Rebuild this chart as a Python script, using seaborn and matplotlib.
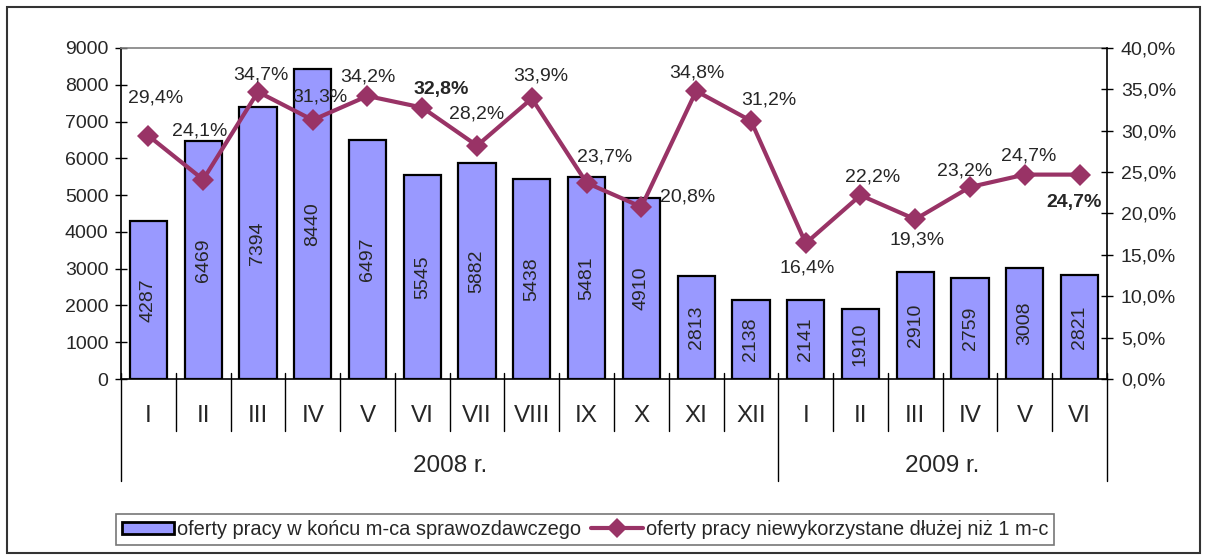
import numpy as np
import pandas as pd
import matplotlib
matplotlib.use("Agg")
import matplotlib.pyplot as plt
import seaborn as sns
from matplotlib.patches import Patch, Rectangle
from matplotlib.lines import Line2D
from matplotlib.ticker import FuncFormatter, MultipleLocator
import matplotlib.transforms as mtransforms

# ---- data ----
months = ["I", "II", "III", "IV", "V", "VI", "VII", "VIII", "IX", "X", "XI", "XII",
          "I", "II", "III", "IV", "V", "VI"]
years = ["2008 r.", "2009 r."]
year_counts = [12, 6]
offers = [4287, 6469, 7394, 8440, 6497, 5545, 5882, 5438, 5481, 4910, 2813, 2138,
          2141, 1910, 2910, 2759, 3008, 2821]
unused_pct = [29.4, 24.1, 34.7, 31.3, 34.2, 32.8, 28.2, 33.9, 23.7, 20.8, 34.8, 31.2,
              16.4, 22.2, 19.3, 23.2, 24.7, 24.7]
bar_label_name = "oferty pracy w końcu m-ca sprawozdawczego"
line_label_name = "oferty pracy niewykorzystane dłużej niż 1 m-c"
bold_idx = [5, 17]

# label offsets (pixels) relative to the line points
label_offsets = [(7, 38), (-3, 49), (3, 17), (7, 23), (0, 19), (19, 18), (0, 32), (9, 22),
                 (18, 26), (46, 10), (1, 18), (18, 21), (1, -25), (12, 18), (2, -21),
                 (-5, 16), (4, 19), (-6, -28)]

sns.set_style("white")
plt.rcParams["font.family"] = ["Liberation Sans", "DejaVu Sans"]

BAR_COLOR = "#9999FF"
LINE_COLOR = "#993366"

W, H = 1207, 556
fig = plt.figure(figsize=(W / 100, H / 100), dpi=100)
left, right, top, bottom = 121, 1107, 48, 379
ax = fig.add_axes([left / W, 1 - bottom / H, (right - left) / W, (bottom - top) / H])

df = pd.DataFrame({"pos": np.arange(len(offers)), "offers": offers, "pct": unused_pct})

sns.barplot(data=df, x="pos", y="offers", ax=ax, color=BAR_COLOR, saturation=1,
            width=0.68, edgecolor="black", linewidth=1.6)
ax.set_xlim(-0.5, len(offers) - 0.5)
ax.set_ylim(0, 9000)
ax.yaxis.set_major_locator(MultipleLocator(1000))
ax.set_xlabel("")
ax.set_ylabel("")
ax.set_xticks([])
ax.tick_params(axis="y", direction="inout", length=8, width=1, labelsize=14, pad=5, left=True,
               color="black")
for s in ["left", "bottom"]:
    ax.spines[s].set_color("black")
    ax.spines[s].set_linewidth(1.2)
ax.spines["top"].set_color("#808080")
ax.spines["top"].set_linewidth(1.2)
ax.spines["right"].set_visible(False)

ax.bar_label(ax.containers[0], labels=[str(v) for v in offers], label_type="center",
             rotation=90, fontsize=14)

ax2 = ax.twinx()
sns.lineplot(x=df["pos"], y=df["pct"], ax=ax2, color=LINE_COLOR, linewidth=3,
             marker="D", markersize=11, markeredgecolor=LINE_COLOR, markeredgewidth=0,
             legend=False)
ax2.set_ylim(0, 40)
ax2.yaxis.set_major_locator(MultipleLocator(5))
ax2.yaxis.set_major_formatter(FuncFormatter(lambda v, p: f"{v:.1f}%".replace(".", ",")))
ax2.set_ylabel("")
ax2.tick_params(axis="y", direction="inout", length=8, width=1, labelsize=14, pad=6, right=True,
                color="black")
for s in ["left", "top", "bottom"]:
    ax2.spines[s].set_visible(False)
ax2.spines["right"].set_color("black")
ax2.spines["right"].set_linewidth(1.2)
ax2.set_xlim(-0.5, len(offers) - 0.5)

for i, (v, (dx, dy)) in enumerate(zip(unused_pct, label_offsets)):
    ax2.annotate(f"{v:.1f}%".replace(".", ","), xy=(i, v), xytext=(dx, dy),
                 textcoords="offset pixels", ha="center", va="center", fontsize=14,
                 fontweight="bold" if i in bold_idx else "normal", annotation_clip=False)

# two-level category axis
trans = mtransforms.blended_transform_factory(ax.transData, ax.transAxes)
ph = bottom - top
y_top = 6 / ph
y_month_sep = -(431 - bottom) / ph
y_year_sep = -(481 - bottom) / ph
y_month_lbl = -(416 - bottom) / ph
y_year_lbl = -(466 - bottom) / ph

year_bounds = np.cumsum([0] + year_counts)
for b in range(len(offers) + 1):
    xb = b - 0.5
    long_sep = b in year_bounds
    ax.plot([xb, xb], [y_top, y_year_sep if long_sep else y_month_sep], transform=trans,
            color="black", lw=1, clip_on=False)
for i, m in enumerate(months):
    ax.text(i, y_month_lbl, m, transform=trans, ha="center", va="center", fontsize=17.5)
for k, yname in enumerate(years):
    xc = (year_bounds[k] + year_bounds[k + 1] - 1) / 2
    ax.text(xc, y_year_lbl, yname, transform=trans, ha="center", va="center", fontsize=17.5)

# legend
handles = [Patch(facecolor=BAR_COLOR, edgecolor="black", linewidth=2),
           Line2D([0], [0], color=LINE_COLOR, lw=3, marker="D", markersize=10,
                  markeredgewidth=0)]
leg = fig.legend(handles, [bar_label_name, line_label_name], loc="center",
                 bbox_to_anchor=(585 / W, 1 - 529.5 / H), ncol=2, frameon=True,
                 fancybox=False, edgecolor="#555555", fontsize=14.4, handlelength=2.6,
                 handleheight=0.55, handletextpad=0.15, columnspacing=0.5, borderpad=0.3,
                 borderaxespad=0)
leg.get_frame().set_linewidth(1.2)

# outer border
fig.add_artist(Rectangle((7 / W, 3 / H), (1200 - 7) / W, (549 - 3) / H,
                         transform=fig.transFigure, fill=False, edgecolor="#333333", lw=1.5))

fig.savefig("out.png", dpi=100)
